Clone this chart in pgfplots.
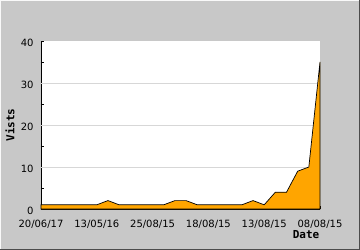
\documentclass[border=0pt]{standalone}
\usepackage{fontspec}
\setmainfont{DejaVu Sans}
\newfontfamily\monob{DejaVu Sans Mono}
\usepackage{pgfplots}
\pgfplotsset{compat=1.18}
\definecolor{bg}{RGB}{200,200,200}
\definecolor{fillor}{RGB}{255,165,0}
\definecolor{gridc}{RGB}{215,215,215}
\begin{document}
\begin{tikzpicture}
\useasboundingbox (0,0) rectangle (360bp,250bp);
\fill[bg] (0,0) rectangle (360bp,250bp);
\draw[white!90!bg, line width=1bp] (0.5bp,0) -- (0.5bp,249.5bp) -- (360bp,249.5bp);
\draw[black!70, line width=1bp] (0,0.5bp) -- (359.5bp,0.5bp) -- (359.5bp,250bp);
\begin{axis}[
  at={(41bp,41bp)}, anchor=south west,
  scale only axis, width=279bp, height=168bp,
  xmin=0, xmax=25, ymin=0, ymax=40,
  axis x line=bottom, axis y line=left,
  axis line style={-, black, line width=0.8bp},
  axis background/.style={fill=white},
  xtick={0,5,10,15,20,25},
  xticklabels={20/06/17,13/05/16,25/08/15,18/08/15,13/08/15,08/08/15},
  ytick={0,10,20,30,40},
  minor ytick={5,15,25,35},
  extra y ticks={10,20,30},
  extra y tick labels={},
  extra y tick style={grid=major, major tick length=0pt},
  major grid style={gridc, line width=0.8bp},
  tick align=inside,
  major tick length=3bp, minor tick length=3bp,
  tick style={black, line width=0.8bp},
  /pgf/number format/assume math mode=true,
  ticklabel style={font=\fontsize{10bp}{12bp}\selectfont, text=black},
  yticklabel style={xshift=-4bp, yshift=-1.5bp},
  xticklabel style={yshift=-8bp},
  xlabel={Date}, ylabel={Vists},
  every axis x label/.style={at={(axis description cs:0.95,-0.155)}, anchor=center, font=\monob\bfseries\fontsize{11bp}{13bp}\selectfont},
  every axis y label/.style={at={(axis description cs:-0.111,0.5)}, rotate=90, anchor=center, font=\monob\bfseries\fontsize{11bp}{13bp}\selectfont},
  clip=false,
]
\addplot[fill=fillor, draw=black, line width=0.7bp] coordinates {
(0,1) (1,1) (2,1) (3,1) (4,1) (5,1) (6,2) (7,1) (8,1) (9,1)
(10,1) (11,1) (12,2) (13,2) (14,1) (15,1) (16,1) (17,1) (18,1) (19,2)
(20,1) (21,4) (22,4) (23,9) (24,10) (25,35)
} \closedcycle;
\end{axis}
\end{tikzpicture}
\end{document}
